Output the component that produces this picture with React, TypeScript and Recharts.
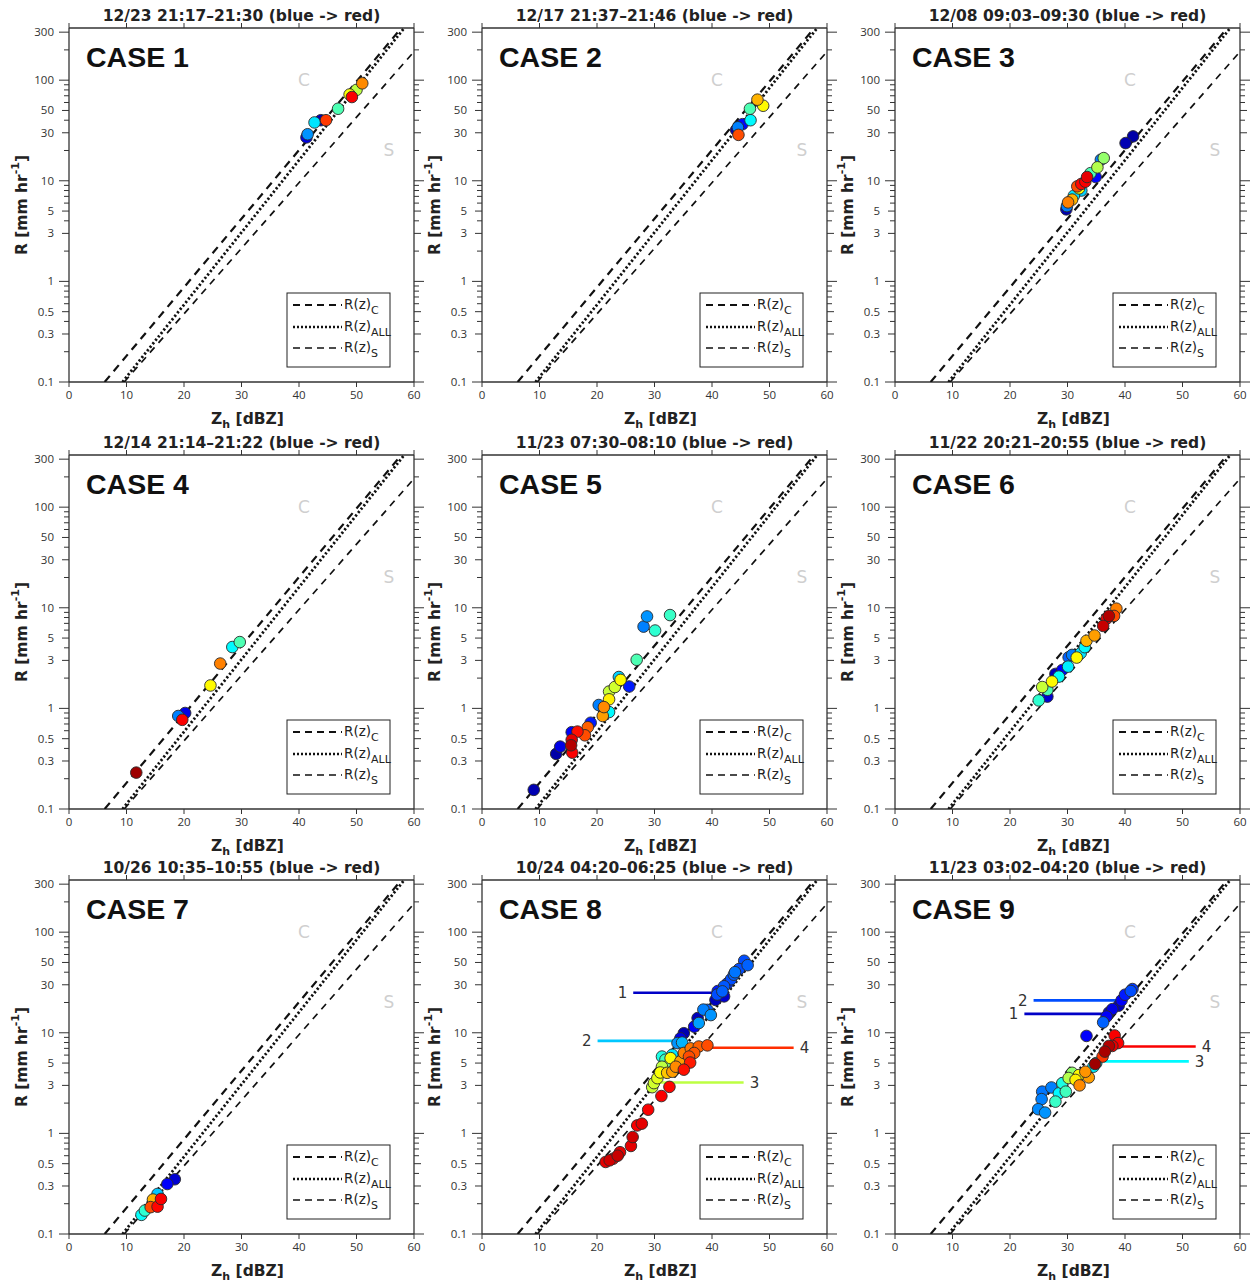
import React from "react";
import { ScatterChart, Scatter, XAxis, YAxis, ReferenceDot } from "recharts";

// points per case, in time order: [Zh (dBZ), R (mm/hr), time fraction 0 = blue .. 1 = red]
const case1 = [
  [41.3, 27, 0.1], [41.5, 29, 0.27], [42.7, 38, 0.35], [43.8, 40, 0.05], [44.7, 40, 0.82],
  [46.8, 52, 0.45], [48.8, 72, 0.62], [49.2, 68, 0.88], [50.0, 80, 0.56], [51.0, 93, 0.74],
];
const case2 = [
  [44.2, 32, 0.05], [44.5, 34, 0.25], [44.6, 28.6, 0.8], [45.3, 36.5, 0.13], [46.7, 40, 0.37],
  [46.6, 52, 0.45], [48.9, 55.7, 0.63], [47.9, 64, 0.7],
];
const case3 = [
  [29.8, 5.2, 0.05], [29.9, 5.6, 0.25], [30.1, 6.1, 0.75], [30.8, 6.5, 0.7], [31.1, 7.1, 0.35],
  [32.4, 8.0, 0.33], [32.0, 8.4, 0.62], [31.7, 8.8, 0.8], [32.4, 9.3, 0.87], [33.1, 9.8, 0.88],
  [33.4, 10.9, 0.9], [34.9, 10.9, 0.13], [34.0, 11.9, 0.45], [35.2, 13.6, 0.55], [35.8, 16.2, 0.25],
  [36.3, 16.8, 0.52], [40.1, 23.7, 0.05], [41.4, 27.6, 0.04],
];
const case4 = [
  [11.7, 0.23, 0.97], [19.0, 0.84, 0.25], [20.2, 0.9, 0.1], [19.7, 0.77, 0.88],
  [24.6, 1.69, 0.63], [26.3, 2.79, 0.75], [28.4, 4.07, 0.37], [29.7, 4.56, 0.45],
];
const case5 = [
  [9.0, 0.155, 0.05], [12.9, 0.353, 0.04], [13.6, 0.417, 0.1], [15.7, 0.363, 0.88], [15.5, 0.43, 0.95],
  [15.6, 0.487, 0.9], [15.6, 0.58, 0.12], [16.6, 0.588, 0.86], [17.9, 0.54, 0.8], [18.4, 0.65, 0.78],
  [18.9, 0.72, 0.15], [20.3, 1.08, 0.25], [21.0, 0.84, 0.72], [21.2, 1.03, 0.74], [22.1, 0.92, 0.37],
  [22.1, 1.23, 0.64], [22.1, 1.47, 0.57], [23.1, 1.63, 0.58], [23.8, 2.05, 0.33], [24.1, 1.92, 0.63],
  [25.6, 1.65, 0.15], [26.9, 3.04, 0.45], [28.1, 6.5, 0.25], [28.7, 8.2, 0.27], [30.1, 5.94, 0.42],
  [32.7, 8.46, 0.43],
];
const case6 = [
  [38.5, 9.8, 0.75], [38.1, 8.3, 0.8], [37.2, 8.3, 0.95], [36.8, 7.8, 0.88], [36.2, 6.6, 0.93],
  [34.7, 5.3, 0.72], [33.3, 4.7, 0.7], [33.0, 4.06, 0.37], [32.3, 3.54, 0.35], [30.8, 3.4, 0.25],
  [30.2, 3.22, 0.22], [31.6, 3.2, 0.63], [30.1, 2.6, 0.36], [29.1, 2.41, 0.12], [27.9, 2.2, 0.06],
  [28.5, 2.07, 0.38], [27.3, 1.85, 0.63], [25.6, 1.63, 0.57], [26.5, 1.53, 0.45], [26.5, 1.31, 0.08],
  [25.0, 1.2, 0.42],
];
const case7 = [
  [18.4, 0.35, 0.08], [17.1, 0.314, 0.12], [15.4, 0.25, 0.32], [14.7, 0.218, 0.25], [14.6, 0.22, 0.7],
  [16.0, 0.223, 0.88], [15.4, 0.187, 0.87], [14.2, 0.185, 0.8], [13.2, 0.171, 0.42], [12.6, 0.155, 0.38],
];
const case8 = [
  [45.6, 52, 0.2], [46.2, 47, 0.22], [44.7, 43, 0.2], [44.0, 40, 0.24], [43.8, 37.8, 0.22],
  [43.3, 34, 0.2], [42.7, 31, 0.18], [42.1, 29, 0.21], [41.8, 25.8, 0.22], [41.0, 26, 0.15],
  [40.9, 24, 0.2], [42.1, 23, 0.08], [40.6, 21.2, 0.06], [39.2, 16.9, 0.22], [38.5, 17, 0.25],
  [39.8, 15, 0.27], [37.5, 14, 0.06], [37.7, 12.5, 0.28], [36.9, 11.5, 0.12], [35.1, 9.9, 0.05],
  [34.5, 8.8, 0.1], [34.0, 7.9, 0.27], [34.8, 8.0, 0.3],
  [31.3, 5.8, 0.4], [31.9, 5.4, 0.44], [33.1, 6.05, 0.35], [32.0, 5.0, 0.38], [32.5, 4.8, 0.5],
  [31.3, 4.6, 0.56], [31.0, 4.03, 0.62], [30.5, 3.54, 0.6], [29.9, 3.16, 0.58], [29.6, 2.88, 0.57],
  [32.2, 4.0, 0.68], [33.1, 4.1, 0.72], [33.7, 4.6, 0.74], [32.8, 5.6, 0.62], [34.5, 5.2, 0.72],
  [35.1, 6.3, 0.75], [36.3, 7.0, 0.76], [37.7, 7.3, 0.78], [39.2, 7.5, 0.8], [36.0, 5.8, 0.8],
  [36.9, 6.3, 0.79], [36.2, 5.06, 0.85], [35.1, 4.3, 0.86],
  [32.6, 2.9, 0.87], [31.2, 2.35, 0.88], [28.9, 1.72, 0.88], [27.8, 1.25, 0.9], [27.0, 1.2, 0.88],
  [26.2, 0.92, 0.92], [25.9, 0.75, 0.9], [24.0, 0.65, 0.9], [23.6, 0.6, 0.93], [22.8, 0.56, 0.88],
  [22.2, 0.54, 0.92], [21.5, 0.52, 0.9],
];
const case9 = [
  [41.3, 27.2, 0.18], [41.0, 26, 0.2], [40.0, 23.9, 0.15], [39.4, 21, 0.12], [38.9, 18.6, 0.06],
  [37.8, 17.2, 0.1], [37.2, 15.9, 0.08], [36.8, 14.5, 0.12], [36.2, 12.7, 0.22], [33.3, 9.3, 0.12],
  [38.2, 9.4, 0.88], [38.8, 7.9, 0.88], [37.2, 7.4, 0.95], [36.5, 6.5, 0.96], [37.8, 7.4, 0.9],
  [34.8, 4.9, 0.97], [36.1, 5.8, 0.82], [34.5, 4.6, 0.36], [35.0, 5.0, 0.38],
  [33.1, 4.1, 0.73], [33.7, 3.6, 0.72], [32.0, 3.8, 0.63], [31.4, 3.4, 0.64], [32.1, 3.0, 0.74],
  [30.8, 4.0, 0.52], [30.2, 3.55, 0.55], [29.1, 3.16, 0.4], [29.7, 2.6, 0.44], [28.5, 2.5, 0.37],
  [27.9, 2.07, 0.43], [27.2, 2.86, 0.25], [25.6, 2.6, 0.24], [25.5, 2.19, 0.25], [24.9, 1.74, 0.26],
  [26.1, 1.61, 0.27],
];

const TITLES = [
  "12/23 21:17–21:30 (blue -> red)",
  "12/17 21:37–21:46 (blue -> red)",
  "12/08 09:03–09:30 (blue -> red)",
  "12/14 21:14–21:22 (blue -> red)",
  "11/23 07:30–08:10 (blue -> red)",
  "11/22 20:21–20:55 (blue -> red)",
  "10/26 10:35–10:55 (blue -> red)",
  "10/24 04:20–06:25 (blue -> red)",
  "11/23 03:02–04:20 (blue -> red)",
];
const CASES = [case1, case2, case3, case4, case5, case6, case7, case8, case9];

const X_TICKS = [0, 10, 20, 30, 40, 50, 60];
const Y_TICKS = [
  0.1, 0.2, 0.3, 0.4, 0.5, 0.6, 0.7, 0.8, 0.9, 1, 2, 3, 4, 5, 6, 7, 8, 9,
  10, 20, 30, 40, 50, 60, 70, 80, 90, 100, 200, 300,
];
const Y_LABELS = [0.1, 0.3, 0.5, 1, 3, 5, 10, 30, 50, 100, 300];
const Y_DECADES = [0.1, 1, 10, 100, 300];
const R_MAX = 330;

// Z-R relations (end points)
const rzC = [{ z: 6.2, r: 0.1 }, { z: 57.8, r: R_MAX }];
const rzAll = [{ z: 9.3, r: 0.1 }, { z: 58.3, r: R_MAX }];
const rzS = [{ z: 9.6, r: 0.1 }, { z: 60, r: 192 }];

// marked periods in cases 8 and 9
const marks8 = [
  { id: "1", z0: 26.3, z1: 40.3, r: 25, t: 0.07, side: "left" },
  { id: "2", z0: 20.1, z1: 34.5, r: 8.3, t: 0.32, side: "left" },
  { id: "3", z0: 30.5, z1: 45.5, r: 3.2, t: 0.56, side: "right" },
  { id: "4", z0: 39.2, z1: 54.2, r: 7.1, t: 0.83, side: "right" },
];
const marks9 = [
  { id: "1", z0: 22.5, z1: 36.6, r: 15.4, t: 0.07, side: "left" },
  { id: "2", z0: 24.1, z1: 38.7, r: 21, t: 0.2, side: "left" },
  { id: "3", z0: 36.3, z1: 51.1, r: 5.2, t: 0.37, side: "right" },
  { id: "4", z0: 38.7, z1: 52.3, r: 7.3, t: 0.88, side: "right" },
];
const MARKS: Record<number, typeof marks8> = { 7: marks8, 8: marks9 };

// layout
const PLOT_LEFT = [69, 482, 895];
const PLOT_TOP = [28, 455, 880];
const PW = 345;
const PH = 354;
const ML = 60;
const MR = 25;
const MB = 45;
const FONT = "DejaVu Sans, sans-serif";

const jet = (t: number) => {
  const c = (v: number) => Math.round(255 * Math.max(0, Math.min(1, v)));
  return `rgb(${c(1.5 - Math.abs(4 * t - 3))},${c(1.5 - Math.abs(4 * t - 2))},${c(1.5 - Math.abs(4 * t - 1))})`;
};

const Dot = (p: any) => (
  <circle cx={p.cx} cy={p.cy} r={5.8} fill={jet(p.payload.t)} stroke="#2a2a2a" strokeWidth={0.9} />
);
const NoShape = () => <g />;

const YTick = (p: any) => {
  const v = p.payload.value;
  const s = p.side === "r" ? 1 : -1;
  const len = Y_DECADES.includes(v) ? 10 : Y_LABELS.includes(v) ? 7 : 5;
  return (
    <g>
      <line x1={p.x} x2={p.x + s * len} y1={p.y} y2={p.y} stroke="#333" strokeWidth={1} />
      {p.side === "l" && Y_LABELS.includes(v) && (
        <text x={p.x - 15} y={p.y + 4} textAnchor="end" fontSize={11.5} fill="#333" fontFamily="Open Sans">
          {String(v)}
        </text>
      )}
    </g>
  );
};

const XTick = (p: any) => (
  <text x={p.x} y={p.y + 10} textAnchor="middle" fontSize={11.5} fill="#333" fontFamily="Open Sans">
    {p.payload.value}
  </text>
);

function Panel({ idx }: { idx: number }) {
  const col = idx % 3;
  const row = Math.floor(idx / 3);
  const pts = CASES[idx]
    .map(([z, r, t]) => ({ z, r, t }))
    .sort((a, b) => a.t - b.t);
  const marks = MARKS[idx] || [];
  const yProps = {
    type: "number" as const,
    dataKey: "r",
    scale: "log" as const,
    domain: [0.1, R_MAX],
    allowDataOverflow: true,
    ticks: Y_TICKS,
    interval: 0 as const,
    tickLine: false,
    tickSize: 0,
    tickMargin: 0,
    axisLine: { stroke: "#333", strokeWidth: 1.3 },
  };
  return (
    <div style={{ position: "absolute", left: PLOT_LEFT[col] - ML, top: PLOT_TOP[row] - 28 }}>
      <ScatterChart
        width={ML + PW + MR}
        height={28 + PH + MB}
        margin={{ top: 27, right: MR - 1, bottom: 15, left: 0 }}
      >
        <XAxis
          xAxisId="b"
          dataKey="z"
          type="number"
          domain={[0, 60]}
          ticks={X_TICKS}
          interval={0}
          height={30}
          tickSize={5}
          tick={<XTick />}
          tickLine={{ stroke: "#333" }}
          axisLine={{ stroke: "#333", strokeWidth: 1.3 }}
        />
        <XAxis
          xAxisId="t"
          orientation="top"
          dataKey="z"
          type="number"
          domain={[0, 60]}
          ticks={X_TICKS}
          interval={0}
          height={1}
          tickSize={5}
          tick={<g />}
          tickLine={{ stroke: "#333" }}
          axisLine={{ stroke: "#333", strokeWidth: 1.3 }}
        />
        <YAxis yAxisId="l" width={ML} tick={<YTick side="l" />} {...yProps} />
        <YAxis yAxisId="r" orientation="right" width={1} tick={<YTick side="r" />} {...yProps} />
        <Scatter xAxisId="t" yAxisId="r" data={rzC} shape={NoShape} isAnimationActive={false} />

        <Scatter
          xAxisId="b" yAxisId="l" data={rzS} shape={NoShape} isAnimationActive={false}
          line={{ stroke: "#111", strokeWidth: 1.7, strokeDasharray: "7 6" }}
        />
        <Scatter
          xAxisId="b" yAxisId="l" data={rzAll} shape={NoShape} isAnimationActive={false}
          line={{ stroke: "#111", strokeWidth: 2.8, strokeDasharray: "2.2 2.2" }}
        />
        <Scatter
          xAxisId="b" yAxisId="l" data={rzC} shape={NoShape} isAnimationActive={false}
          line={{ stroke: "#111", strokeWidth: 2.2, strokeDasharray: "8 6" }}
        />
        {marks.map((m) => (
          <Scatter
            key={"m" + m.id}
            xAxisId="b" yAxisId="l"
            data={[{ z: m.z0, r: m.r }, { z: m.z1, r: m.r }]}
            shape={NoShape}
            isAnimationActive={false}
            line={{ stroke: jet(m.t), strokeWidth: 2.6 }}
          />
        ))}
        <Scatter xAxisId="b" yAxisId="l" data={pts} shape={Dot} isAnimationActive={false} />
        {marks.map((m) => (
          <ReferenceDot
            key={"l" + m.id}
            xAxisId="b" yAxisId="l"
            x={m.side === "left" ? m.z0 : m.z1}
            y={m.r}
            r={0}
            stroke="none"
            label={{ value: m.id, position: m.side, offset: 6, fill: "#333", fontSize: 15, fontFamily: FONT }}
          />
        ))}
      </ScatterChart>
    </div>
  );
}

function Overlay() {
  const items: React.ReactNode[] = [];
  for (let i = 0; i < 9; i++) {
    const x0 = PLOT_LEFT[i % 3];
    const y0 = PLOT_TOP[Math.floor(i / 3)];
    const cx = x0 + PW / 2;
    const cy = y0 + PH / 2;
    const lx = x0 + 218;
    const ly = y0 + 265;
    items.push(
      <g key={i}>
        <text x={cx} y={y0 - 7} textAnchor="middle" fontSize={15.5} fontWeight="bold" fill="#222" fontFamily={FONT}>
          {TITLES[i]}
        </text>
        <text x={x0 + 17} y={y0 + 39} fontSize={28.5} fontWeight="bold" fill="#111" fontFamily="Liberation Sans, Arial">
          {"CASE " + (i + 1)}
        </text>
        <text x={x0 + 235} y={y0 + 58} textAnchor="middle" fontSize={17} fill="#cfcfcf" fontFamily={FONT}>C</text>
        <text x={x0 + 320} y={y0 + 128} textAnchor="middle" fontSize={17} fill="#cfcfcf" fontFamily={FONT}>S</text>
        <text x={cx + 6} y={y0 + PH + 42} textAnchor="middle" fontSize={15.5} fontWeight="bold" fill="#222" fontFamily={FONT}>
          Z<tspan fontSize={11} dy={4}>h</tspan>
          <tspan dy={-4}> [dBZ]</tspan>
        </text>
        <text
          x={x0 - 47}
          y={cy}
          transform={`rotate(-90 ${x0 - 47} ${cy})`}
          textAnchor="middle"
          dominantBaseline="middle"
          fontSize={15.5}
          fontWeight="bold"
          fill="#222"
          fontFamily={FONT}
        >
          R [mm hr<tspan fontSize={11} dy={-6}>-1</tspan>
          <tspan dy={6}>]</tspan>
        </text>
        <rect x={lx} y={ly} width={103} height={74} fill="#fff" stroke="#222" strokeWidth={1} />
        <line x1={lx + 6} x2={lx + 55} y1={ly + 12} y2={ly + 12} stroke="#111" strokeWidth={2.2} strokeDasharray="7 5" />
        <line x1={lx + 6} x2={lx + 55} y1={ly + 34} y2={ly + 34} stroke="#111" strokeWidth={2.6} strokeDasharray="2 2" />
        <line x1={lx + 6} x2={lx + 55} y1={ly + 55} y2={ly + 55} stroke="#111" strokeWidth={1.7} strokeDasharray="7 5" />
        {["C", "ALL", "S"].map((s, k) => (
          <text key={s} x={lx + 57} y={ly + [16, 38, 59][k]} fontSize={13.5} fill="#222" fontFamily={FONT}>
            R(z)<tspan fontSize={11} dy={5}>{s}</tspan>
          </text>
        ))}
      </g>
    );
  }
  return (
    <svg width={1255} height={1284} style={{ position: "absolute", left: 0, top: 0, pointerEvents: "none" }}>
      {items}
    </svg>
  );
}

export default function App() {
  return (
    <div style={{ position: "absolute", left: 0, top: 0, width: 1255, height: 1284, background: "#fff" }}>
      {Array.from({ length: 9 }, (_, i) => (
        <Panel key={i} idx={i} />
      ))}
      <Overlay />
    </div>
  );
}
